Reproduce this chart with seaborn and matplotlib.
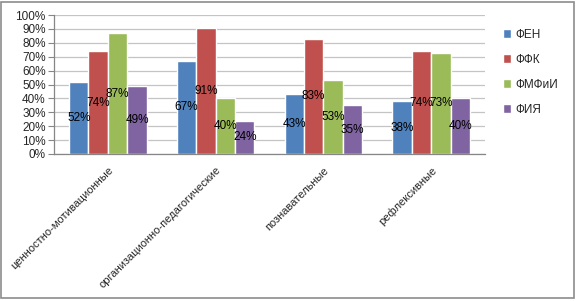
import pandas as pd
import matplotlib.pyplot as plt
import matplotlib.patches as mpatches
import seaborn as sns

categories = ['ценностно-мотивационные', 'организационно-педагогические',
              'познавательные', 'рефлексивные']
groups = ['ФЕН', 'ФФК', 'ФМФиИ', 'ФИЯ']
fen = [52, 67, 43, 38]
ffk = [74, 91, 83, 74]
fmfii = [87, 40, 53, 73]
fiya = [49, 24, 35, 40]
colors = ['#4F81BD', '#C0504D', '#9BBB59', '#8064A2']

rows = []
for g, vals in zip(groups, [fen, ffk, fmfii, fiya]):
    for c, v in zip(categories, vals):
        rows.append({'cat': c, 'group': g, 'val': v})
df = pd.DataFrame(rows)

sns.set_style('white')
plt.rcParams['font.family'] = ['Liberation Sans', 'DejaVu Sans']

fig = plt.figure(figsize=(5.77, 3.01), dpi=100)
ax = fig.add_axes([54 / 577, 1 - 154 / 301, 431 / 577, 139 / 301])

sns.barplot(data=df, x='cat', y='val', hue='group', palette=colors,
            width=0.72, gap=0, saturation=1, ax=ax, legend=True, zorder=2)

# data labels
for cont, vals in zip(ax.containers, [fen, ffk, fmfii, fiya]):
    ax.bar_label(cont, labels=[f'{v}%' for v in vals], label_type='center',
                 fontsize=8.5, color='black')

ax.set_ylim(0, 100)
ax.set_xlim(-0.5, 3.5)
ax.set_yticks(range(0, 101, 10))
ax.set_yticklabels([f'{v}%' for v in range(0, 101, 10)], fontsize=8.5)
ax.yaxis.grid(True, color='#c4c4c4', linewidth=0.9, zorder=0)
ax.set_axisbelow(True)
ax.set_xlabel('')
ax.set_ylabel('')

ax.set_xticks(range(4))
ax.set_xticklabels(categories, rotation=45, ha='right', rotation_mode='anchor',
                   fontsize=8)
ax.tick_params(axis='x', which='major', length=0, pad=8)
ax.set_xticks([-0.5, 0.5, 1.5, 2.5, 3.5], minor=True)
ax.tick_params(axis='x', which='minor', length=4, color='#868686', direction='out')
ax.tick_params(axis='y', length=4, color='#868686', direction='out', pad=2, left=True)

for s in ['top', 'right']:
    ax.spines[s].set_visible(False)
for s in ['left', 'bottom']:
    ax.spines[s].set_color('#868686')
    ax.spines[s].set_linewidth(0.9)

handles, labels = ax.get_legend_handles_labels()
ax.legend(handles, labels, loc='upper left', bbox_to_anchor=(492 / 577, 1 - 18 / 301),
          bbox_transform=fig.transFigure, frameon=False, fontsize=8.5,
          handlelength=0.7, handleheight=0.7, handletextpad=0.35, labelspacing=1.1)

# chart frame
fig.patches.append(mpatches.Rectangle((1 / 577, 3 / 301), 573 / 577, 296 / 301,
                                      transform=fig.transFigure, fill=False,
                                      edgecolor='#8c8c8c', linewidth=1.2))

fig.savefig('out.png', dpi=100)
